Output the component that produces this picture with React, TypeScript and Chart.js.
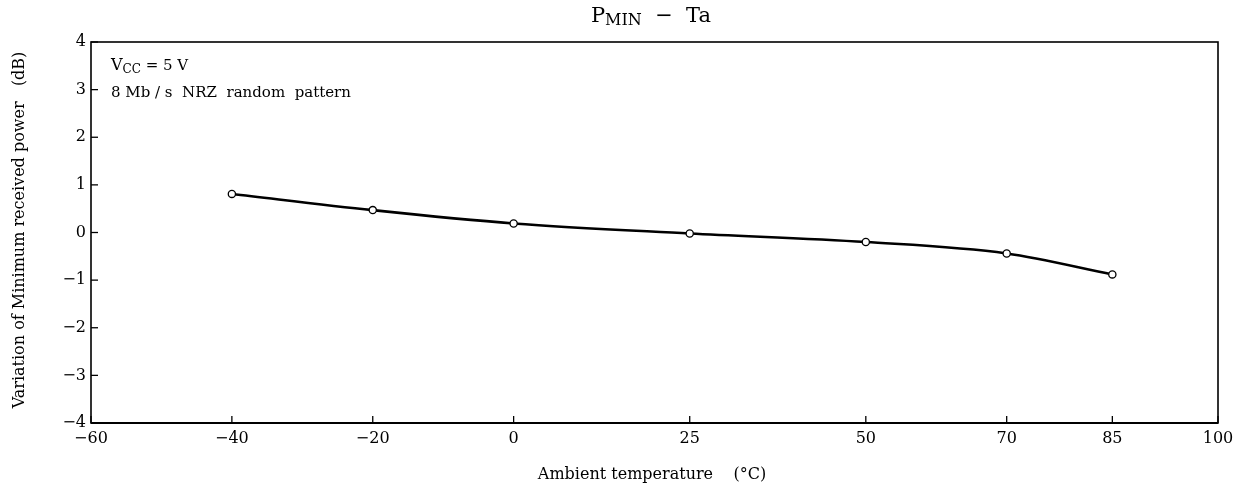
import React, { useEffect, useRef } from "react";
import { Chart, registerables } from "chart.js";

Chart.register(...registerables);

const temperatures = [-40, -20, 0, 25, 50, 70, 85];
const pminVariation = [0.81, 0.47, 0.19, -0.02, -0.2, -0.44, -0.88];
const xTickValues = [-60, -40, -20, 0, 25, 50, 70, 85, 100];
const yTickValues = [-4, -3, -2, -1, 0, 1, 2, 3, 4];

const FONT = "'DejaVu Serif', 'Liberation Serif', serif";
const fmt = (v: number) => (v < 0 ? "\u2212" + Math.abs(v) : String(v));

const decorPlugin = {
  id: "decor",
  afterDraw(chart: any) {
    const ctx = chart.ctx as CanvasRenderingContext2D;
    const { left, right, top, bottom } = chart.chartArea;
    const xs = chart.scales.x;
    const ys = chart.scales.y;
    ctx.save();
    ctx.strokeStyle = "#000";
    // frame
    ctx.lineWidth = 1.6;
    ctx.strokeRect(left, top, right - left, bottom - top);
    ctx.lineWidth = 2.2;
    ctx.beginPath();
    ctx.moveTo(left, bottom);
    ctx.lineTo(right, bottom);
    ctx.stroke();
    // inward ticks
    ctx.lineWidth = 1.3;
    xs.ticks.forEach((t: any) => {
      const px = xs.getPixelForValue(t.value);
      ctx.beginPath();
      ctx.moveTo(px, bottom);
      ctx.lineTo(px, bottom - 7);
      ctx.stroke();
    });
    ys.ticks.forEach((t: any) => {
      const py = ys.getPixelForValue(t.value);
      ctx.beginPath();
      ctx.moveTo(left, py);
      ctx.lineTo(left + 7, py);
      ctx.stroke();
    });
    ctx.fillStyle = "#000";
    ctx.textBaseline = "alphabetic";
    // title: P_MIN − Ta
    const big = `21px ${FONT}`;
    const small = `16px ${FONT}`;
    const parts: [string, string, number][] = [
      ["P", big, 0],
      ["MIN", small, 3],
      ["  \u2212  Ta", big, 0],
    ];
    let total = 0;
    parts.forEach(([s, f]) => {
      ctx.font = f;
      total += ctx.measureText(s).width;
    });
    let cx = 651 - total / 2;
    parts.forEach(([s, f, dy]) => {
      ctx.font = f;
      ctx.textAlign = "left";
      ctx.fillText(s, cx, 22 + dy);
      cx += ctx.measureText(s).width;
    });
    // annotation
    let ax = 111;
    const ann: [string, string, number][] = [
      ["V", `16px ${FONT}`, 0],
      ["CC", `12px ${FONT}`, 3],
      [" = 5 V", `15px ${FONT}`, 0],
    ];
    ann.forEach(([s, f, dy]) => {
      ctx.font = f;
      ctx.fillText(s, ax, 70 + dy);
      ax += ctx.measureText(s).width;
    });
    ctx.font = `15px ${FONT}`;
    ctx.fillText("8 Mb / s  NRZ  random  pattern", 111, 97);
    // axis titles
    ctx.textAlign = "center";
    ctx.textBaseline = "middle";
    ctx.font = `16px ${FONT}`;
    ctx.fillText("Ambient temperature    (\u00B0C)", 652, 475);
    ctx.save();
    ctx.translate(20, 230);
    ctx.rotate(-Math.PI / 2);
    ctx.fillText("Variation of Minimum received power   (dB)", 0, 0);
    ctx.restore();
    ctx.restore();
  },
};

export default function App() {
  const ref = useRef<HTMLCanvasElement | null>(null);
  useEffect(() => {
    document.body.style.margin = "0";
    if (!ref.current) return;
    const chart = new Chart(ref.current, {
      type: "line",
      data: {
        datasets: [
          {
            data: temperatures.map((t, i) => ({ x: t, y: pminVariation[i] })),
            borderColor: "#000",
            borderWidth: 2.6,
            cubicInterpolationMode: "monotone",
            pointRadius: 3.6,
            pointBorderWidth: 1.3,
            pointBackgroundColor: "#fff",
            pointBorderColor: "#000",
          },
        ],
      },
      options: {
        animation: false,
        responsive: true,
        maintainAspectRatio: false,
        layout: { padding: { top: 42, right: 24, left: 0, bottom: 0 } },
        plugins: { legend: { display: false }, title: { display: false }, tooltip: { enabled: false } },
        scales: {
          x: {
            type: "linear",
            min: -60,
            max: 100,
            afterBuildTicks: (s: any) => {
              s.ticks = xTickValues.map((v) => ({ value: v }));
            },
            afterFit: (s: any) => {
              s.height = 65;
            },
            grid: { display: false, drawTicks: false },
            border: { display: false },
            ticks: {
              padding: 6,
              color: "#000",
              font: { family: FONT, size: 16 },
              maxRotation: 0,
              autoSkip: false,
              callback: (v: any) => fmt(Number(v)),
            },
          },
          y: {
            type: "linear",
            min: -4,
            max: 4,
            afterBuildTicks: (s: any) => {
              s.ticks = yTickValues.map((v) => ({ value: v }));
            },
            afterFit: (s: any) => {
              s.width = 91;
            },
            grid: { display: false, drawTicks: false },
            border: { display: false },
            ticks: {
              padding: 5,
              color: "#000",
              font: { family: FONT, size: 16 },
              callback: (v: any) => fmt(Number(v)),
            },
          },
        },
      },
      plugins: [decorPlugin],
    } as any);
    return () => chart.destroy();
  }, []);
  return (
    <div style={{ position: "absolute", left: 0, top: 0, width: 1242, height: 488, background: "#fff" }}>
      <canvas ref={ref} />
    </div>
  );
}
